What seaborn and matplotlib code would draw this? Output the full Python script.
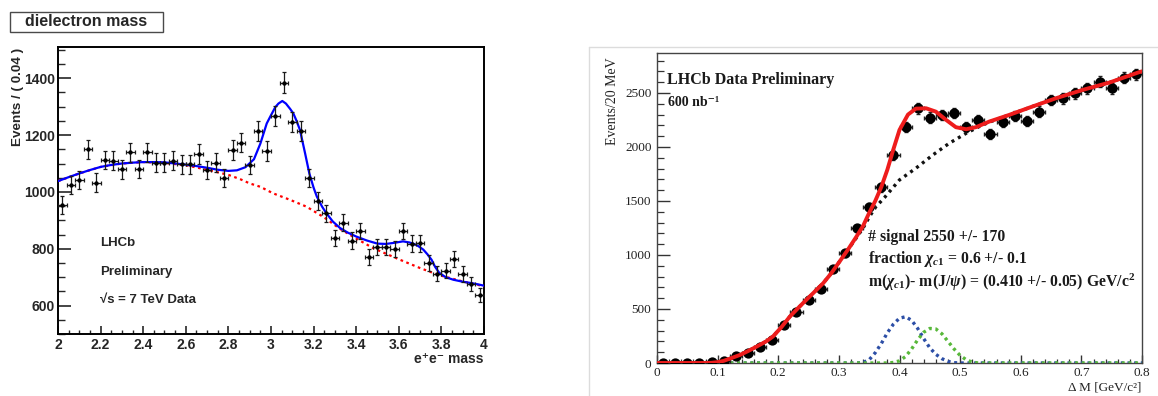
import numpy as np
import pandas as pd
import matplotlib
matplotlib.use("Agg")
import matplotlib.pyplot as plt
import seaborn as sns
from matplotlib.ticker import MultipleLocator, FuncFormatter
from matplotlib.patches import Rectangle
from matplotlib.lines import Line2D

# ---------------- left panel data (dielectron mass) ----------------
ee_mass = [2.02, 2.06, 2.10, 2.14, 2.18, 2.22, 2.26, 2.30, 2.34, 2.38,
           2.42, 2.46, 2.50, 2.54, 2.58, 2.62, 2.66, 2.70, 2.74, 2.78,
           2.82, 2.86, 2.90, 2.94, 2.98, 3.02, 3.06, 3.10, 3.14, 3.18,
           3.22, 3.26, 3.30, 3.34, 3.38, 3.42, 3.46, 3.50, 3.54, 3.58,
           3.62, 3.66, 3.70, 3.74, 3.78, 3.82, 3.86, 3.90, 3.94, 3.98]
ee_counts = [955, 1025, 1042, 1150, 1033, 1112, 1110, 1080, 1139, 1081,
             1139, 1103, 1103, 1110, 1097, 1097, 1133, 1077, 1103, 1050,
             1147, 1173, 1095, 1214, 1144, 1268, 1385, 1247, 1214, 1048,
             968, 925, 838, 892, 829, 862, 771, 806, 806, 799,
             863, 818, 819, 750, 712, 723, 764, 711, 676, 637]
ee_err = [31, 32, 32, 34, 32, 33, 33, 33, 34, 33,
          34, 33, 33, 33, 33, 33, 34, 33, 33, 32,
          34, 34, 33, 35, 34, 36, 37, 35, 35, 32,
          31, 30, 29, 30, 29, 29, 28, 28, 28, 28,
          29, 29, 29, 27, 27, 27, 28, 27, 26, 25]
ee_bin_half = 0.02

fit_x = [2.00, 2.05, 2.10, 2.15, 2.20, 2.25, 2.30, 2.35, 2.40, 2.45,
         2.50, 2.55, 2.60, 2.65, 2.70, 2.75, 2.80, 2.84, 2.88, 2.92,
         2.95, 2.98, 3.00, 3.02, 3.035, 3.053, 3.07, 3.09, 3.105, 3.12,
         3.136, 3.16, 3.18, 3.20, 3.215, 3.24, 3.26, 3.29, 3.324, 3.36,
         3.40, 3.45, 3.50, 3.54, 3.58, 3.62, 3.65, 3.668, 3.69, 3.715,
         3.735, 3.754, 3.77, 3.79, 3.82, 3.856, 3.90, 3.934, 3.97, 4.00]
fit_y = [1038, 1052, 1065, 1077, 1088, 1095, 1100, 1103, 1105, 1105,
         1104, 1100, 1096, 1091, 1085, 1078, 1074, 1076, 1087, 1115,
         1170, 1241, 1270, 1298, 1311, 1320, 1311, 1292, 1276, 1250,
         1218, 1136, 1065, 1015, 984, 948, 925, 896, 873, 857,
         843, 829, 818, 817, 821, 826, 822, 818, 810, 797,
         780, 761, 737, 715, 700, 691, 684, 680, 675, 670]
bkg_x = [2.00, 2.10, 2.20, 2.30, 2.40, 2.50, 2.60, 2.70, 2.80, 2.855,
         2.90, 2.95, 3.01, 3.09, 3.167, 3.25, 3.324, 3.40, 3.48, 3.56,
         3.60, 3.70, 3.79, 3.90, 4.00]
bkg_y = [1038, 1065, 1088, 1100, 1105, 1102, 1094, 1078, 1060, 1045,
         1030, 1018, 995, 972, 948, 910, 870, 836, 802, 776,
         763, 732, 707, 685, 668]

# ---------------- right panel data (Delta M) ----------------
dm = [0.01, 0.03, 0.05, 0.07, 0.09, 0.11, 0.13, 0.15, 0.17, 0.19,
      0.21, 0.23, 0.25, 0.27, 0.29, 0.31, 0.33, 0.35, 0.37, 0.39,
      0.41, 0.43, 0.45, 0.47, 0.49, 0.51, 0.53, 0.55, 0.57, 0.59,
      0.61, 0.63, 0.65, 0.67, 0.69, 0.71, 0.73, 0.75, 0.77, 0.79]
dm_counts = [0, 0, 0, 0, 5, 18, 68, 96, 151, 213,
             352, 469, 583, 682, 867, 1015, 1247, 1447, 1627, 1926,
             2183, 2358, 2272, 2297, 2312, 2188, 2250, 2118, 2235, 2287,
             2241, 2327, 2435, 2451, 2497, 2544, 2605, 2544, 2642, 2673]
dm_err = [0, 0, 0, 0, 2, 4, 8, 10, 12, 15,
          19, 22, 24, 26, 29, 32, 35, 38, 40, 44,
          47, 49, 48, 48, 48, 47, 47, 46, 47, 48,
          47, 48, 49, 50, 50, 50, 51, 50, 51, 52]
dm_bin_half = 0.01

tot_x = [0.00, 0.02, 0.04, 0.06, 0.08, 0.09, 0.10, 0.11, 0.12, 0.1366,
         0.15, 0.164, 0.18, 0.191, 0.205, 0.219, 0.233, 0.246, 0.26, 0.274,
         0.288, 0.301, 0.315, 0.329, 0.34, 0.35, 0.36, 0.37, 0.38, 0.39,
         0.40, 0.414, 0.427, 0.444, 0.46, 0.477, 0.493, 0.51, 0.526, 0.548,
         0.581, 0.619, 0.658, 0.702, 0.746, 0.795, 0.80]
tot_y = [0, 0, 0, 0, 0, 2, 8, 20, 40, 74,
         110, 151, 200, 244, 330, 429, 510, 583, 660, 738,
         835, 938, 1050, 1170, 1270, 1390, 1500, 1630, 1790, 1980,
         2158, 2300, 2355, 2358, 2327, 2250, 2183, 2164, 2183, 2235,
         2297, 2374, 2451, 2528, 2596, 2692, 2700]
bg_x = [0.00, 0.02, 0.04, 0.06, 0.08, 0.09, 0.10, 0.11, 0.12, 0.1366,
        0.15, 0.164, 0.18, 0.191, 0.205, 0.219, 0.233, 0.246, 0.26, 0.274,
        0.288, 0.301, 0.315, 0.329, 0.34, 0.35, 0.36, 0.375, 0.40, 0.427,
        0.455, 0.482, 0.51, 0.53, 0.548, 0.581, 0.619, 0.658, 0.702, 0.746,
        0.795, 0.80]
bg_y = [0, 0, 0, 0, 0, 2, 8, 20, 40, 74,
        110, 151, 200, 244, 330, 429, 510, 583, 660, 738,
        835, 938, 1050, 1160, 1250, 1350, 1440, 1530, 1695, 1803,
        1926, 2034, 2127, 2185, 2230, 2297, 2374, 2451, 2528, 2596,
        2692, 2700]
chic1_x = [0.00, 0.33, 0.34, 0.35, 0.36, 0.37, 0.38, 0.39, 0.40, 0.41,
           0.42, 0.43, 0.44, 0.45, 0.46, 0.47, 0.48, 0.49, 0.50, 0.80]
chic1_y = [0, 0, 5, 30, 95, 180, 280, 360, 415, 428,
           395, 320, 225, 140, 80, 40, 15, 3, 0, 0]
chic2_x = [0.00, 0.38, 0.39, 0.40, 0.41, 0.42, 0.43, 0.44, 0.45, 0.46,
           0.47, 0.48, 0.49, 0.50, 0.51, 0.52, 0.53, 0.80]
chic2_y = [0, 0, 5, 20, 60, 130, 215, 285, 320, 315,
           270, 200, 130, 70, 30, 8, 0, 0]

# ---------------- styling ----------------
sns.set_style("ticks")
plt.rcParams['font.family'] = ['Liberation Sans', 'DejaVu Sans']
plt.rcParams['mathtext.fontset'] = 'custom'
plt.rcParams['mathtext.rm'] = 'Liberation Serif:bold'
plt.rcParams['mathtext.it'] = 'Liberation Serif:italic:bold'
plt.rcParams['mathtext.bf'] = 'Liberation Serif:bold'

W, H = 1158, 396
fig = plt.figure(figsize=(W / 100, H / 100), dpi=100)
fig.patch.set_facecolor('white')

SANS = ['Liberation Sans', 'DejaVu Sans']
SERIF = ['Liberation Serif', 'DejaVu Serif']

# ================= LEFT =================
axL = fig.add_axes([58 / W, (H - 334) / H, (484 - 58) / W, (334 - 47) / H])
sns.lineplot(x=bkg_x, y=bkg_y, ax=axL, color='#ff0000', lw=1.6,
             linestyle=(0, (1.2, 1.6)), estimator=None, sort=False, zorder=3)
sns.lineplot(x=fit_x, y=fit_y, ax=axL, color='#0000ff', lw=1.6,
             estimator=None, sort=False, zorder=4)
axL.errorbar(ee_mass, ee_counts, yerr=ee_err, xerr=ee_bin_half, fmt='none',
             ecolor='#1a1a1a', elinewidth=0.9, capsize=1.6, capthick=0.9, zorder=5)
sns.scatterplot(x=ee_mass, y=ee_counts, ax=axL, color='black', s=10,
                edgecolor='black', linewidth=0, zorder=6)
axL.set_xlim(2, 4)
axL.set_ylim(500, 1510)
axL.xaxis.set_major_locator(MultipleLocator(0.2))
axL.xaxis.set_minor_locator(MultipleLocator(0.05))
axL.yaxis.set_major_locator(MultipleLocator(200))
axL.yaxis.set_minor_locator(MultipleLocator(50))
axL.xaxis.set_major_formatter(FuncFormatter(lambda v, p: f"{v:g}"))
axL.tick_params(axis='y', which='major', direction='in', length=9.5, width=1.2, pad=2)
axL.tick_params(axis='y', which='minor', direction='in', length=4.8, width=1.0)
axL.tick_params(axis='x', which='major', direction='in', length=5.8, width=1.2, pad=3)
axL.tick_params(axis='x', which='minor', direction='in', length=3.0, width=1.0)
for lab in axL.get_xticklabels() + axL.get_yticklabels():
    lab.set_fontweight('bold')
    lab.set_fontsize(10)
for sp in axL.spines.values():
    sp.set_linewidth(1.4)
    sp.set_color('black')
axL.set_xlabel('')
axL.set_ylabel('')

fig.text(18 / W, 1 - 48 / H, 'Events / ( 0.04 )', rotation=90, ha='center', va='top',
         fontsize=9.7, fontweight='bold', family=SANS)
fig.text(484 / W, 1 - 359 / H, 'e\u207ae\u207b mass', ha='right', va='center',
         fontsize=10, fontweight='bold', family=SANS)
fig.text(100 / W, 1 - 243 / H, 'LHCb', ha='left', va='center', fontsize=9.5,
         fontweight='bold', family=SANS)
fig.text(100 / W, 1 - 272 / H, 'Preliminary', ha='left', va='center', fontsize=9.5,
         fontweight='bold', family=SANS)
fig.text(100 / W, 1 - 300 / H, '\u221as = 7 TeV Data', ha='left', va='center', fontsize=9.5,
         fontweight='bold', family=SANS)

# title box
fig.patches.append(Rectangle((10 / W, 1 - 32 / H), 153 / W, 20 / H, transform=fig.transFigure,
                             facecolor='white', edgecolor='#4a4a4a', lw=1.0))
fig.text(86 / W, 1 - 22 / H, 'dielectron mass', ha='center', va='center',
         fontsize=11.5, fontweight='bold', family=SANS)

# ================= RIGHT =================
fig.add_artist(Line2D([589 / W, 1.0], [1 - 47 / H, 1 - 47 / H], transform=fig.transFigure,
                      color='#dcdcdc', lw=1.0))
fig.add_artist(Line2D([589 / W, 589 / W], [1 - 47 / H, 0.0], transform=fig.transFigure,
                      color='#dcdcdc', lw=1.0))

axR = fig.add_axes([657 / W, (H - 363) / H, (1142 - 657) / W, (363 - 53) / H])
sns.lineplot(x=chic1_x, y=chic1_y, ax=axR, color='#2c4ea6', lw=2.4,
             linestyle=(0, (0.9, 1.1)), estimator=None, sort=False, zorder=3)
sns.lineplot(x=chic2_x, y=chic2_y, ax=axR, color='#58b83a', lw=2.4,
             linestyle=(0, (0.9, 1.1)), estimator=None, sort=False, zorder=3)
sns.lineplot(x=bg_x, y=bg_y, ax=axR, color='#111111', lw=2.4,
             linestyle=(0, (0.9, 1.3)), estimator=None, sort=False, zorder=3)
axR.errorbar(dm, dm_counts, yerr=dm_err, xerr=dm_bin_half, fmt='none',
             ecolor='#222222', elinewidth=1.0, capsize=1.5, capthick=1.0, zorder=4)
sns.scatterplot(x=dm, y=dm_counts, ax=axR, color='black', s=55,
                edgecolor='black', linewidth=0, zorder=5)
sns.lineplot(x=tot_x, y=tot_y, ax=axR, color='#ee1c1c', lw=2.8,
             estimator=None, sort=False, zorder=6)
axR.set_xlim(0, 0.8)
axR.set_ylim(0, 2870)
axR.xaxis.set_major_locator(MultipleLocator(0.1))
axR.xaxis.set_minor_locator(MultipleLocator(0.02))
axR.yaxis.set_major_locator(MultipleLocator(500))
axR.yaxis.set_minor_locator(MultipleLocator(100))
axR.xaxis.set_major_formatter(FuncFormatter(lambda v, p: f"{v:g}"))
axR.tick_params(axis='y', which='major', direction='in', length=9.5, width=1.0,
                pad=4, color='#333333')
axR.tick_params(axis='y', which='minor', direction='in', length=5.0, width=0.9, color='#333333')
axR.tick_params(axis='x', which='major', direction='in', length=6.0, width=1.0,
                pad=3, color='#333333')
axR.tick_params(axis='x', which='minor', direction='in', length=3.0, width=0.9, color='#333333')
for lab in axR.get_xticklabels() + axR.get_yticklabels():
    lab.set_family(SERIF)
    lab.set_fontsize(9.5)
    lab.set_color('#222222')
for sp in axR.spines.values():
    sp.set_linewidth(1.0)
    sp.set_color('#444444')
axR.set_xlabel('')
axR.set_ylabel('')

fig.text(613 / W, 1 - 57 / H, 'Events/20 MeV', rotation=90, ha='center', va='top',
         fontsize=10, family=SERIF, color='#222222')
fig.text(1141 / W, 1 - 387 / H, '\u0394 M [GeV/c\u00b2]', ha='right', va='center',
         fontsize=9.5, family=SERIF, color='#222222')
fig.text(667 / W, 1 - 80 / H, 'LHCb Data Preliminary', ha='left', va='center',
         fontsize=11.5, fontweight='bold', family=SERIF, color='#1a1a1a')
fig.text(668 / W, 1 - 102 / H, '600 nb\u207b\u00b9', ha='left', va='center',
         fontsize=10, fontweight='bold', family=SERIF, color='#1a1a1a')
fig.text(868 / W, 1 - 237 / H, '# signal 2550 +/- 170', ha='left', va='center',
         fontsize=11.3, fontweight='bold', family=SERIF, color='#1a1a1a')
fig.text(868 / W, 1 - 259 / H, r'fraction $\chi_{c1}$ = 0.6 +/- 0.1', ha='left', va='center',
         fontsize=11.3, fontweight='bold', family=SERIF, color='#1a1a1a')
fig.text(868 / W, 1 - 282 / H, r'm($\chi_{c1}$)- m(J/$\psi$) = (0.410 +/- 0.05) GeV/c$^{2}$',
         ha='left', va='center', fontsize=11.3, fontweight='bold', family=SERIF, color='#1a1a1a')

fig.savefig('out.png', dpi=100, facecolor='white')
